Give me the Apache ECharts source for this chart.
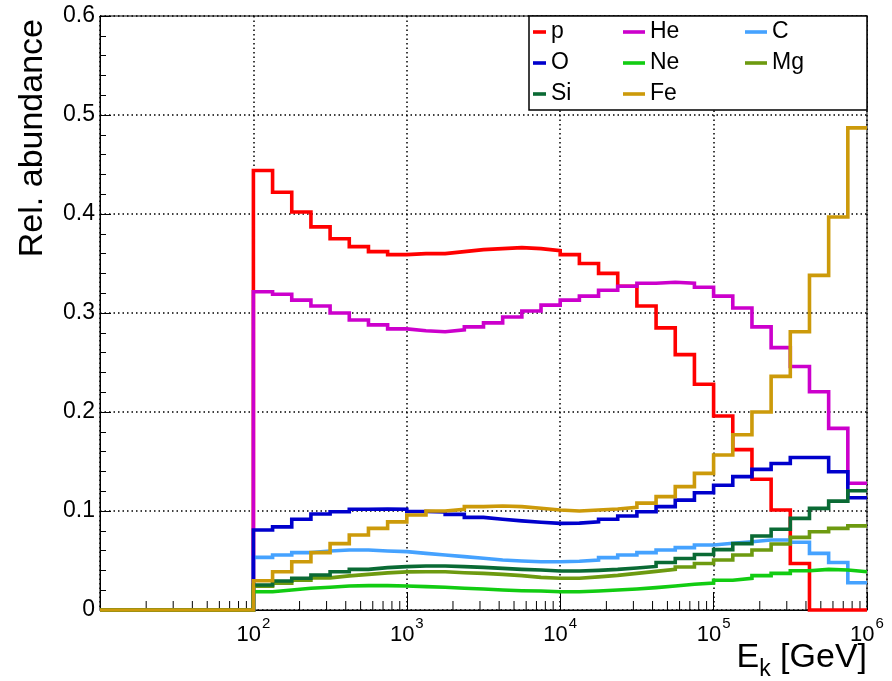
<!DOCTYPE html>
<html>
<head>
<meta charset="utf-8">
<script src="https://cdn.jsdelivr.net/npm/echarts@6/dist/echarts.min.js"></script>
<style>
  html, body { margin: 0; padding: 0; background: #fff; }
  #chart { width: 892px; height: 681px; }
</style>
</head>
<body>
<div id="chart"></div>
<script>
// Energy binning: 8 logarithmic bins per decade from 1e2 to 1e6 GeV; empty below 1e2
const xMin = 10;
const binsStart = 100;
const binsPerDecade = 8;

const names = ['p', 'He', 'C', 'O', 'Ne', 'Mg', 'Si', 'Fe'];
const colors = ['#ff0000', '#cc00cc', '#45a2ff', '#0000cc', '#12cc12', '#6d9a10', '#0a6a34', '#cc9a0a'];

// Relative abundance per bin
const pVals  = [0.444,0.422,0.402,0.387,0.375,0.367,0.362,0.359,0.360,0.360,0.362,0.364,0.365,0.366,0.365,0.363,
                0.359,0.350,0.340,0.327,0.307,0.285,0.258,0.228,0.196,0.162,0.132,0.101,0.047,0,0,0];
const heVals = [0.3215,0.319,0.313,0.307,0.300,0.293,0.288,0.284,0.282,0.281,0.283,0.286,0.290,0.296,0.302,0.308,
                0.313,0.317,0.323,0.327,0.330,0.331,0.330,0.326,0.317,0.305,0.286,0.265,0.246,0.2205,0.1835,0.128];
const cVals  = [0.0532,0.0556,0.058,0.0596,0.0606,0.0606,0.0596,0.059,0.0572,0.0556,0.0539,0.0522,0.0505,0.0495,0.0488,0.0488,
                0.0492,0.0505,0.0529,0.0556,0.058,0.0606,0.063,0.0657,0.0675,0.069,0.0707,0.0707,0.0684,0.0572,0.048,0.0276];
const oVals  = [0.0808,0.084,0.0916,0.097,0.0993,0.1017,0.102,0.1017,0.0995,0.099,0.0966,0.0936,0.0916,0.090,0.0886,0.0875,
                0.0878,0.089,0.0916,0.095,0.0993,0.1044,0.111,0.1185,0.126,0.1347,0.142,0.148,0.154,0.154,0.1397,0.1134];
const neVals = [0.0185,0.0202,0.022,0.023,0.0242,0.0246,0.0246,0.0242,0.0236,0.023,0.022,0.0212,0.0202,0.0195,0.0192,0.0185,
                0.0185,0.0192,0.0202,0.0212,0.0226,0.0242,0.026,0.0273,0.030,0.032,0.0347,0.037,0.0397,0.041,0.0404,0.0387];
const mgVals = [0.024,0.027,0.030,0.0325,0.0345,0.036,0.0375,0.0385,0.0387,0.0387,0.0377,0.037,0.036,0.0347,0.033,0.032,
                0.032,0.0335,0.035,0.037,0.039,0.041,0.0435,0.047,0.0505,0.0556,0.0606,0.0667,0.0734,0.079,0.0825,0.085];
const siVals = [0.0253,0.0293,0.032,0.0354,0.0387,0.041,0.0428,0.0438,0.0444,0.0444,0.0438,0.0431,0.042,0.041,0.0404,0.0394,
                0.0394,0.040,0.041,0.0425,0.044,0.048,0.052,0.056,0.061,0.067,0.0747,0.0815,0.0926,0.1027,0.110,0.1205];
const feVals = [0.0296,0.0387,0.0488,0.058,0.067,0.0758,0.0825,0.089,0.096,0.100,0.1017,0.1044,0.105,0.1044,0.1027,0.101,
                0.100,0.101,0.102,0.1037,0.108,0.1145,0.1246,0.138,0.1566,0.177,0.200,0.236,0.281,0.338,0.397,0.487];

const allVals = [pVals, heVals, cVals, oVals, neVals, mgVals, siVals, feVals];

const yTicks = [0, 0.1, 0.2, 0.3, 0.4, 0.5, 0.6];

const FONT = 'Liberation Sans, Arial, Helvetica, sans-serif';

// Bin edge i
function edge(i) {
  return binsStart * Math.pow(10, i / binsPerDecade);
}

// Histogram outline: empty range, then one point per bin's low edge, closing at the last upper edge
function histPoints(vals) {
  const pts = [[xMin, 0]];
  for (let i = 0; i < vals.length; i++) pts.push([edge(i), vals[i]]);
  pts.push([edge(vals.length), vals[vals.length - 1]]);
  return pts;
}

// Log minor tick positions (2..9 x 10^n)
const minorTickVals = [];
for (let d = 1; d < 6; d++) {
  for (let k = 2; k <= 9; k++) minorTickVals.push([k * Math.pow(10, d), 0]);
}

const series = names.map((n, i) => ({
  name: n,
  type: 'line',
  step: 'end',
  data: histPoints(allVals[i]),
  showSymbol: false,
  symbol: 'none',
  lineStyle: { color: colors[i], width: 3.6, join: 'miter', cap: 'butt' },
  itemStyle: { color: colors[i] },
  clip: false,
  animation: false,
  z: 3
}));

series.push({
  name: 'minorTicks',
  type: 'custom',
  coordinateSystem: 'cartesian2d',
  data: minorTickVals,
  silent: true,
  animation: false,
  clip: false,
  z: 2,
  renderItem: function (params, api) {
    const p = api.coord([api.value(0), 0]);
    return {
      type: 'line',
      shape: { x1: p[0], y1: p[1], x2: p[0], y2: p[1] - 9 },
      style: { stroke: '#000', lineWidth: 1 }
    };
  }
});

function legendCol(items, left, itemWidth) {
  return {
    data: items,
    orient: 'vertical',
    left: left,
    top: 20,
    padding: 0,
    z: 20,
    icon: 'rect',
    itemWidth: itemWidth,
    itemHeight: 3.6,
    itemGap: 7,
    selectedMode: false,
    textStyle: { fontFamily: FONT, fontSize: 23, color: '#000', lineHeight: 24 }
  };
}

const chart = echarts.init(document.getElementById('chart'), null, { renderer: 'canvas' });

chart.setOption({
  backgroundColor: '#fff',
  animation: false,
  grid: {
    left: 100, top: 16, right: 25, bottom: 71,
    show: true, borderColor: '#000', borderWidth: 1, backgroundColor: 'transparent'
  },
  legend: [
    legendCol(['p', 'O', 'Si'], 533, 13),
    legendCol(['He', 'Ne', 'Fe'], 623, 22),
    legendCol(['C', 'Mg'], 745, 22)
  ],
  xAxis: {
    type: 'log',
    logBase: 10,
    min: xMin,
    max: 1e6,
    axisLine: { show: true, onZero: false, lineStyle: { color: '#000', width: 1 } },
    axisTick: { show: true, inside: true, length: 18, lineStyle: { color: '#000' } },
    splitLine: { show: true, lineStyle: { color: '#000', width: 1.5, type: [1.5, 3] } },
    axisLabel: {
      margin: 6,
      fontFamily: FONT,
      fontSize: 22,
      color: '#000',
      formatter: function (v) {
        const n = Math.round(Math.log10(v));
        if (n <= 1) return '';
        return '{b|10}{s|' + n + '}';
      },
      rich: {
        b: { fontFamily: FONT, fontSize: 22, color: '#000', lineHeight: 30, verticalAlign: 'bottom' },
        s: { fontFamily: FONT, fontSize: 15, color: '#000', lineHeight: 30, verticalAlign: 'top', padding: [0, 0, 4, 1] }
      }
    }
  },
  yAxis: {
    type: 'value',
    min: yTicks[0],
    max: yTicks[yTicks.length - 1],
    interval: 0.1,
    axisLine: { show: true, lineStyle: { color: '#000', width: 1 } },
    axisTick: { show: true, inside: true, length: 11, lineStyle: { color: '#000' } },
    minorTick: { show: true, splitNumber: 5, length: 6, lineStyle: { color: '#000' } },
    splitLine: { show: true, lineStyle: { color: '#000', width: 1.5, type: [1.5, 3] } },
    axisLabel: {
      margin: 5,
      fontFamily: FONT,
      fontSize: 23,
      color: '#000',
      formatter: function (v) { return String(Math.round(v * 10) / 10); }
    }
  },
  graphic: [
    {
      type: 'rect',
      shape: { x: 529, y: 16, width: 338, height: 94 },
      style: { fill: '#fff', stroke: '#000', lineWidth: 1.5 },
      z: 5
    },
    {
      type: 'text',
      x: 16,
      y: 19,
      rotation: Math.PI / 2,
      style: {
        text: 'Rel. abundance',
        font: '34px ' + FONT,
        fill: '#000',
        align: 'right',
        verticalAlign: 'top'
      }
    },
    {
      type: 'text',
      right: 25,
      top: 641,
      style: {
        text: '{e|E}{k|k}{e| [GeV]}',
        fill: '#000',
        rich: {
          e: { font: '34px ' + FONT, fill: '#000', lineHeight: 40, verticalAlign: 'top' },
          k: { font: '23px ' + FONT, fill: '#000', lineHeight: 40, verticalAlign: 'bottom' }
        }
      }
    }
  ],
  series: series
});
</script>
</body>
</html>
